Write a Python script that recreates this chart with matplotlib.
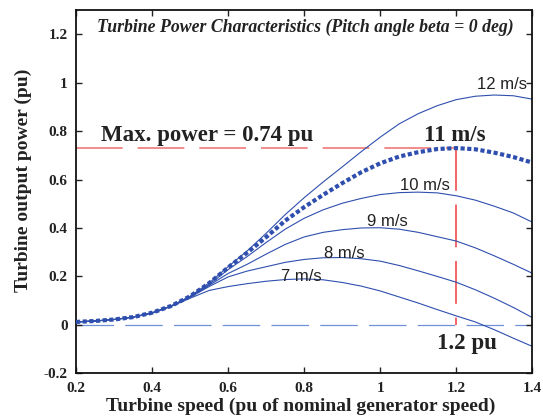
import matplotlib
matplotlib.use("Agg")
import matplotlib.pyplot as plt

# ---- data ----
speed = [0.20, 0.25, 0.30, 0.35, 0.40, 0.45, 0.50, 0.55, 0.60, 0.65, 0.70, 0.75,
         0.80, 0.85, 0.90, 0.95, 1.00, 1.05, 1.10, 1.15, 1.20, 1.25, 1.30, 1.35, 1.40]

p7 = [0.012, 0.016, 0.022, 0.032, 0.048, 0.076, 0.110, 0.142, 0.158, 0.170, 0.180, 0.187,
      0.190, 0.186, 0.175, 0.160, 0.140, 0.115, 0.090, 0.063, 0.037, 0.012, -0.020, -0.055, -0.089]
p8 = [0.012, 0.016, 0.022, 0.032, 0.049, 0.077, 0.114, 0.158, 0.198, 0.222, 0.240, 0.258,
      0.270, 0.277, 0.278, 0.273, 0.263, 0.245, 0.223, 0.200, 0.176, 0.145, 0.110, 0.072, 0.030]
p9 = [0.012, 0.016, 0.022, 0.032, 0.049, 0.077, 0.116, 0.163, 0.212, 0.250, 0.292, 0.332,
      0.363, 0.382, 0.393, 0.400, 0.401, 0.395, 0.382, 0.364, 0.346, 0.318, 0.285, 0.250, 0.213]
p10 = [0.012, 0.016, 0.022, 0.032, 0.049, 0.077, 0.117, 0.167, 0.228, 0.282, 0.340, 0.395,
       0.440, 0.475, 0.502, 0.522, 0.538, 0.546, 0.548, 0.545, 0.533, 0.515, 0.490, 0.462, 0.424]
p11 = [0.012, 0.016, 0.022, 0.032, 0.050, 0.078, 0.118, 0.172, 0.237, 0.298, 0.362, 0.430,
       0.486, 0.537, 0.585, 0.630, 0.667, 0.695, 0.713, 0.726, 0.730, 0.725, 0.711, 0.693, 0.670]
p12 = [0.012, 0.016, 0.022, 0.032, 0.050, 0.078, 0.118, 0.173, 0.240, 0.305, 0.378, 0.455,
       0.525, 0.590, 0.652, 0.715, 0.775, 0.830, 0.872, 0.905, 0.930, 0.944, 0.949, 0.946, 0.932]

thin_series = [p7, p8, p9, p10, p12]
thin_labels = ["7 m/s", "8 m/s", "9 m/s", "10 m/s", "12 m/s"]
label_pos = [(0.793, 0.201), (0.905, 0.294), (1.018, 0.427), (1.117, 0.574), (1.32, 0.994)]

max_power = 0.73
opt_speed = 1.2
xticks = [0.2, 0.4, 0.6, 0.8, 1.0, 1.2, 1.4]
xticklabels = ["0.2", "0.4", "0.6", "0.8", "1", "1.2", "1.4"]
yticks = [-0.2, 0.0, 0.2, 0.4, 0.6, 0.8, 1.0, 1.2]
yticklabels = ["-0.2", "0", "0.2", "0.4", "0.6", "0.8", "1", "1.2"]

# ---- figure ----
fig = plt.figure(figsize=(5.43, 4.18), dpi=100)
ax = fig.add_axes([0.140, 0.107, 0.8403, 0.869])

blue = "#2f4fae"
serif = "Liberation Serif"
sans = "Liberation Sans"

# zero reference
ax.plot([0.2, 1.4], [0, 0], color="#7090d8", lw=0.9, dashes=(30, 9), zorder=1)
# max power lines
ax.plot([0.2, opt_speed], [max_power, max_power], color="#f07878", lw=1.2, dashes=(28, 9), zorder=1)
ax.plot([opt_speed, opt_speed], [max_power, 0], color="#f03a3a", lw=1.1, dashes=(28, 9), zorder=1)

for s in thin_series:
    ax.plot(speed, s, color=blue, lw=0.8, zorder=2)
ax.plot(speed, p11, color=blue, lw=3.0, linestyle=(0, (1.0, 0.6)),
        dash_capstyle="butt", zorder=3)

for lab, (lx, ly) in zip(thin_labels, label_pos):
    ax.text(lx, ly, lab, fontsize=12, family=sans, color="#222222",
            ha="center", va="center", zorder=4)

ax.text(1.197, 0.78, "11 m/s", fontsize=16.5, family=serif, fontweight="bold",
        color="#222222", ha="center", va="center")
ax.text(0.545, 0.78, "Max. power = 0.74 pu", fontsize=16.5, family=serif,
        fontweight="bold", color="#222222", ha="center", va="center")
ax.text(1.227, -0.075, "1.2 pu", fontsize=16.5, family=serif, fontweight="bold",
        color="#222222", ha="center", va="center")
ax.text(0.803, 1.227, "Turbine Power Characteristics (Pitch angle beta = 0 deg)",
        fontsize=12.8, family=serif, fontweight="bold", style="italic",
        color="#222222", ha="center", va="center")

ax.set_xlim(0.2, 1.4)
ax.set_ylim(-0.2, 1.3)
ax.set_xticks(xticks)
ax.set_xticklabels(xticklabels)
ax.set_yticks(yticks)
ax.set_yticklabels(yticklabels)
ax.tick_params(direction="in", length=4, width=1, top=True, right=True,
               labelsize=11, pad=6, colors="#222222")
for lab in ax.get_xticklabels() + ax.get_yticklabels():
    lab.set_family(serif)
    lab.set_fontweight("bold")
for sp in ax.spines.values():
    sp.set_linewidth(1.3)
    sp.set_color("#111111")

fig.text(0.554, 0.027, "Turbine speed (pu of nominal generator speed)", fontsize=14,
         family=serif, fontweight="bold", color="#222222", ha="center", va="center")
fig.text(0.043, 0.569, "Turbine output power (pu)", fontsize=14, family=serif,
         fontweight="bold", color="#222222", ha="center", va="center", rotation=90)

fig.savefig("out.png", dpi=100)
